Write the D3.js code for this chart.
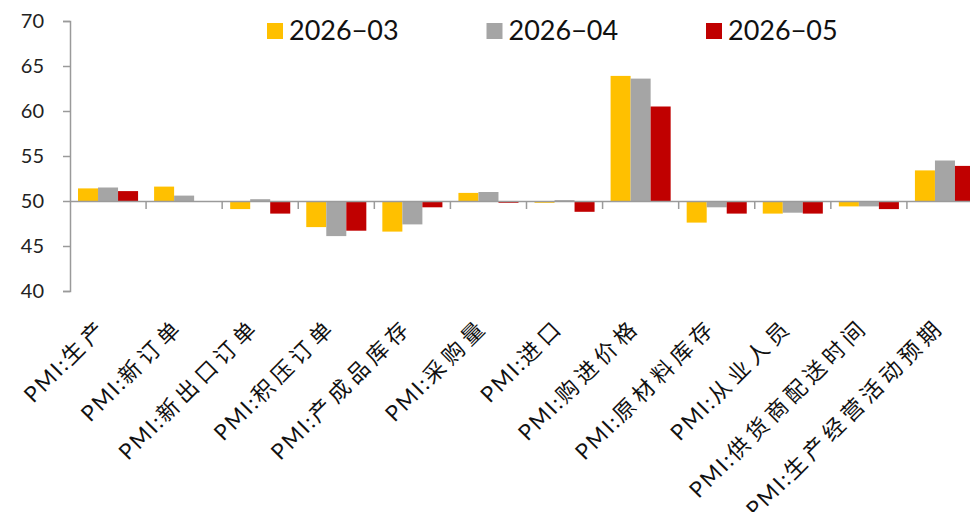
<!DOCTYPE html>
<html><head><meta charset="utf-8">
<script src="https://cdn.jsdelivr.net/npm/d3@7/dist/d3.min.js"></script>
<style>body{margin:0;background:#fff}svg{display:block}</style>
</head><body><svg id="c" width="970" height="512"></svg>
<script>
const categories = ["PMI:生产","PMI:新订单","PMI:新出口订单","PMI:积压订单","PMI:产成品库存","PMI:采购量","PMI:进口","PMI:购进价格","PMI:原材料库存","PMI:从业人员","PMI:供货商配送时间","PMI:生产经营活动预期"];
const seriesNames = ["2026−03","2026−04","2026−05"];
const s2026_03 = [51.4,51.6,49.1,47.1,46.6,50.9,49.8,63.9,47.6,48.6,49.4,53.4];
const s2026_04 = [51.5,50.6,50.2,46.1,47.4,51.0,50.1,63.6,49.3,48.7,49.4,54.5];
const s2026_05 = [51.1,49.9,48.6,46.7,49.3,49.8,48.8,60.5,48.6,48.6,49.1,53.9];
const yTicks = [40,45,50,55,60,65,70];
const colors = ["#ffc000","#a5a5a5","#c00000"];
const values = [s2026_03, s2026_04, s2026_05];

const svg = d3.select("#c");
const x = d3.scaleBand().domain(categories).range([70, 983]).paddingInner(0).paddingOuter(0);
const xs = d3.scaleBand().domain(seriesNames).range([0, x.bandwidth()]).paddingInner(0).paddingOuter(0.4);
const y = d3.scaleLinear().domain([40,70]).range([291,21]);
const base = 50;
const axisColor = "#9a9a9a";
const font = "Lato, 'Noto Sans CJK SC', sans-serif";

// bars
seriesNames.forEach((s, si) => {
  svg.append("g").selectAll("rect").data(categories).join("rect")
    .attr("x", d => x(d) + xs(s))
    .attr("width", xs.bandwidth())
    .attr("y", (d,i) => Math.min(y(values[si][i]), y(base)))
    .attr("height", (d,i) => Math.abs(y(values[si][i]) - y(base)))
    .attr("fill", colors[si]);
});

// y axis
const yAxis = d3.axisLeft(y).tickValues(yTicks).tickSize(7).tickPadding(19);
const gy = svg.append("g").attr("transform","translate(70,0)").call(yAxis);
gy.select(".domain").attr("stroke", axisColor).attr("stroke-width",1.5);
gy.selectAll(".tick line").attr("stroke", axisColor).attr("stroke-width",1.5);
gy.selectAll(".tick text").attr("fill","#222").style("font-family",font).style("font-size","20px");

// x baseline at 50 with ticks at band boundaries
const gx = svg.append("g").attr("transform",`translate(0,${y(base)})`)
  .call(d3.axisBottom(x).tickSize(0).tickFormat(""));
gx.select(".domain").attr("stroke", axisColor).attr("stroke-width",1.5);
gx.selectAll(".tick").remove();
gx.selectAll(".bt").data(categories.slice(1)).join("line")
  .attr("x1", d => x(d)).attr("x2", d => x(d))
  .attr("y1", 0).attr("y2", 8)
  .attr("stroke", axisColor).attr("stroke-width",1.5);

// category labels
const lab = svg.append("g").selectAll("text").data(categories).join("text")
  .attr("transform", d => `translate(${x(d)+x.bandwidth()/2+1},${328}) rotate(-45)`)
  .attr("text-anchor","end")
  .style("font-family", font)
  .style("font-size","22px")
  .attr("fill","#111");
lab.append("tspan").style("letter-spacing","2px").text(d => d.slice(0,4));
lab.append("tspan").style("letter-spacing","5px").text(d => d.slice(4));

// legend
const lg = svg.append("g");
seriesNames.forEach((s, i) => {
  const lx = 267 + i*219.5;
  lg.append("rect").attr("x", lx).attr("y", 23).attr("width",16).attr("height",16).attr("fill", colors[i]);
  lg.append("text").attr("x", lx+22).attr("y", 40).text(s)
    .style("font-family", font).style("font-size","27px").attr("fill","#111");
});
</script></body></html>
